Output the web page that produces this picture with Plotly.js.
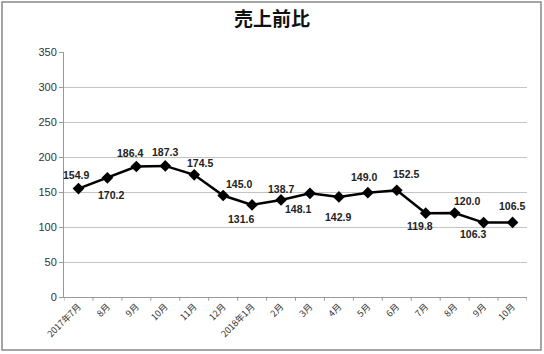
<!DOCTYPE html>
<html><head><meta charset="utf-8">
<script src="https://cdn.plot.ly/plotly-3.0.1.min.js"></script>
<style>html,body{margin:0;padding:0;background:#fff}#c{width:544px;height:354px}</style>
</head><body><div id="c"></div>
<script>
const categories = ["2017年7月","8月","9月","10月","11月","12月","2018年1月","2月","3月","4月","5月","6月","7月","8月","9月","10月"];
const values = [154.9,170.2,186.4,187.3,174.5,145.0,131.6,138.7,148.1,142.9,149.0,152.5,119.8,120.0,106.3,106.5];
const yTicks = [0,50,100,150,200,250,300,350];
// label nudges in pixels (style only): [dx, dy-up]
const labelDx = [-2, 4, -6, 0, 6, 16, -11, 0, -12, -1, -4, 9, -6, 12, -11, -1];
const labelDy = [14, -17, 14, 14, 12, 12, -14, 11, -16, -20, 16, 16, -13, 12, -11, 16];

const xIdx = categories.map((c,i)=>i);
const font = "'Noto Sans CJK JP', 'Liberation Sans', sans-serif";
const lblFont = "'Liberation Sans', Arial, sans-serif";
Plotly.newPlot('c', [{
  x: xIdx, y: values, type: 'scatter', mode: 'lines+markers',
  line: {color: '#000', width: 2.5},
  marker: {symbol: 'diamond', size: 9, color: '#000'},
  cliponaxis: false, hoverinfo: 'none'
}], {
  width: 544, height: 354,
  margin: {l: 64, r: 17, t: 52, b: 57},
  paper_bgcolor: '#fff', plot_bgcolor: '#fff',
  showlegend: false,
  title: {text: '<b>売上前比</b>', font: {family: font, size: 19, color: '#111'}, x: 0.5, xanchor: 'center', y: 0.965, yanchor: 'top'},
  xaxis: {
    type: 'linear', range: [-0.5, categories.length-0.5],
    tickmode: 'array', tickvals: xIdx, ticktext: categories,
    tickangle: -45, tickfont: {family: font, size: 9, color: '#333'},
    showgrid: false, zeroline: false,
    showline: true, linecolor: '#999', linewidth: 1,
    ticks: '', fixedrange: true
  },
  yaxis: {
    range: [0, 350], tickvals: yTicks,
    tickfont: {family: lblFont, size: 11, color: '#333'},
    showgrid: true, gridcolor: '#c4c4c4', gridwidth: 1,
    zeroline: false, showline: true, linecolor: '#999', linewidth: 1,
    ticks: 'outside', ticklen: 4, tickcolor: '#999', fixedrange: true
  },
  annotations: values.map((v, i) => ({
    x: i, y: v, xref: 'x', yref: 'y', text: '<b>' + v.toFixed(1) + '</b>',
    showarrow: false, xanchor: 'center', yanchor: 'middle',
    xshift: labelDx[i], yshift: labelDy[i],
    font: {family: lblFont, size: 10.5, color: '#222'}
  })),
  shapes: [
    ...Array.from({length: categories.length+1}, (_, i) => ({
      type: 'line', xref: 'x', yref: 'paper', x0: i-0.5, x1: i-0.5, y0: 0, y1: -0.015,
      line: {color: '#999', width: 1}
    })),
    {type: 'rect', xref: 'paper', yref: 'paper',
     x0: -62/463, x1: 1 + 14/463, y0: -53/245, y1: 1 + 50/245,
     line: {color: '#888', width: 1.5}}
  ]
}, {staticPlot: true});
</script></body></html>
